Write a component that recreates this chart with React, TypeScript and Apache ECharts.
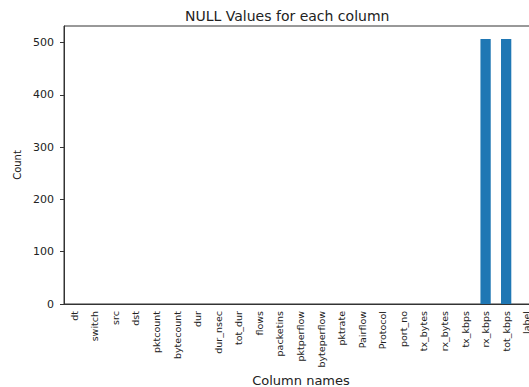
import React, { useEffect, useRef } from "react";
import * as echarts from "echarts";

const categories = [
  "dt", "switch", "src", "dst", "pktcount", "bytecount", "dur", "dur_nsec",
  "tot_dur", "flows", "packetins", "pktperflow", "byteperflow", "pktrate",
  "Pairflow", "Protocol", "port_no", "tx_bytes", "rx_bytes", "tx_kbps",
  "rx_kbps", "tot_kbps", "label",
];
const nullCounts = [
  0, 0, 0, 0, 0, 0, 0, 0, 0, 0, 0, 0, 0, 0, 0, 0, 0, 0, 0, 0, 507, 507, 0,
];
const yTicks = [0, 100, 200, 300, 400, 500];

export default function App() {
  const ref = useRef<HTMLDivElement>(null);
  useEffect(() => {
    if (!ref.current) return;
    const chart = echarts.init(ref.current, undefined, { renderer: "svg" });
    const font = "DejaVu Sans";
    chart.setOption({
      animation: false,
      backgroundColor: "#ffffff",
      title: {
        text: "NULL Values for each column",
        left: 180,
        top: 4,
        textStyle: { fontFamily: font, fontSize: 14, fontWeight: "normal", color: "#222" },
      },
      grid: {
        left: 64,
        right: 3,
        top: 26,
        bottom: 83,
        show: true,
        borderColor: "#333",
        borderWidth: 1,
      },
      xAxis: {
        type: "category",
        data: categories,
        axisLine: { lineStyle: { color: "#333", width: 1 } },
        axisTick: { alignWithLabel: true, length: 4, lineStyle: { color: "#333" } },
        axisLabel: {
          rotate: 90,
          interval: 0,
          margin: 7,
          fontFamily: font,
          fontSize: 9.5,
          color: "#222",
        },
      },
      yAxis: {
        type: "value",
        min: 0,
        max: 532,
        interval: 100,
        splitLine: { show: false },
        axisLine: { show: true, lineStyle: { color: "#333", width: 1 } },
        axisTick: { show: true, length: 4, lineStyle: { color: "#333" } },
        axisLabel: {
          margin: 10,
          fontFamily: font,
          fontSize: 11,
          color: "#222",
          showMaxLabel: false,
          formatter: (v: number) => (yTicks.includes(v) ? String(v) : ""),
        },
      },
      series: [
        {
          type: "bar",
          data: nullCounts,
          barWidth: "50%",
          itemStyle: { color: "#1f77b4" },
        },
      ],
      graphic: [
        {
          type: "text",
          x: 17,
          y: 165,
          rotation: Math.PI / 2,
          style: {
            text: "Count",
            font: `10px ${font}`,
            fill: "#222",
            align: "center",
            verticalAlign: "middle",
          },
        },
        {
          type: "text",
          x: 301,
          y: 380,
          style: {
            text: "Column names",
            font: `13px ${font}`,
            fill: "#222",
            align: "center",
            verticalAlign: "middle",
          },
        },
      ],
    });
    return () => chart.dispose();
  }, []);
  return (
    <div
      style={{
        position: "fixed",
        left: 0,
        top: 0,
        width: 529,
        height: 387,
        overflow: "hidden",
        background: "#fff",
      }}
    >
      <div ref={ref} style={{ width: 540, height: 387 }} />
    </div>
  );
}
